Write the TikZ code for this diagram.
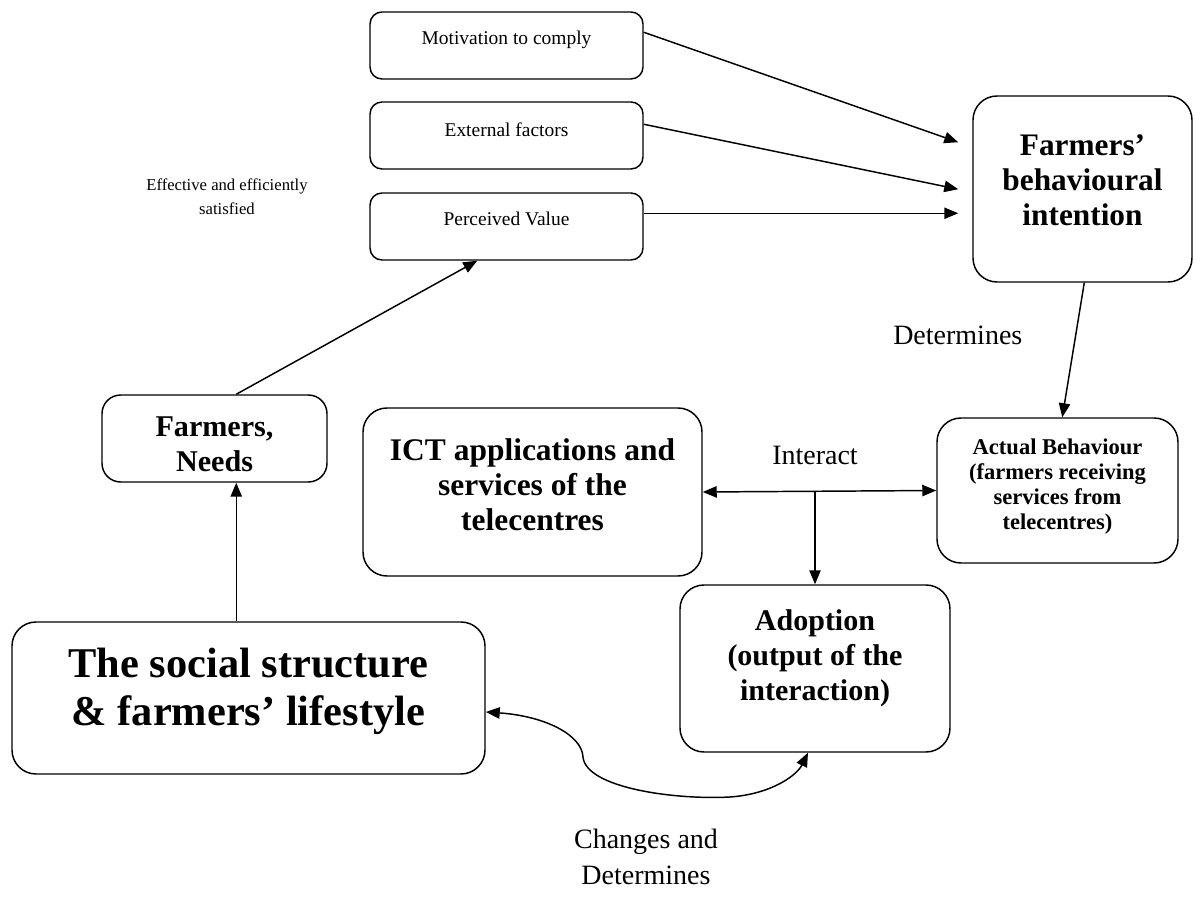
\documentclass[tikz,border=0pt]{standalone}
\usepackage{fontspec}
\setmainfont{Liberation Serif}
\usetikzlibrary{arrows.meta,calc}
\begin{document}
\begin{tikzpicture}[x=0.75pt,y=-0.75pt,
  box/.style 2 args={draw,line width=1.1pt,inner sep=0pt,
    minimum width=#1*0.75pt,minimum height=#2*0.75pt},
  smallbox/.style={rounded corners=9pt},
  bigbox/.style={rounded corners=18pt},
  txt/.style={align=center,inner sep=0pt},
  plain/.style={font=\fontsize{14.6pt}{17pt}\selectfont},
  note/.style={font=\fontsize{12.5pt}{18pt}\selectfont},
  tag/.style={font=\fontsize{21pt}{26.5pt}\selectfont},
  conn/.style={line width=1.1pt,-{Triangle[length=10.5pt,width=8.5pt]}},
  dconn/.style={line width=1.1pt,{Triangle[length=10.5pt,width=8.5pt]}-{Triangle[length=10.5pt,width=8.5pt]}}
]
\useasboundingbox (0,0) rectangle (1200,898);

% boxes
\node[box={273}{67},smallbox] (mot) at (506.5,45.5) {};
\node[box={273}{67},smallbox] (ext) at (506.5,135.5) {};
\node[box={273}{67},smallbox] (per) at (506.5,226.5) {};
\node[box={219}{186},bigbox] (int) at (1082.5,189) {};
\node[box={225}{87},smallbox,rounded corners=14pt] (needs) at (214.5,438.5) {};
\node[box={339}{168},bigbox] (ict) at (532.5,492) {};
\node[box={241}{145},bigbox] (act) at (1057.5,490.5) {};
\node[box={270}{167},bigbox] (adopt) at (815,668.5) {};
\node[box={473}{152},bigbox] (soc) at (248.5,698) {};

% box texts
\node[txt,plain] (motT) at (506.5,40) {Motivation to comply};
\node[txt,plain] (extT) at (506.5,130) {External factors};
\node[txt,plain] (perT) at (506.5,219) {Perceived Value};
\node[txt,font=\bfseries\fontsize{23.5pt}{26.25pt}\selectfont] (intT) at (1082.5,180)
  {Farmers'\\behavioural\\intention};
\node[txt,font=\bfseries\fontsize{22.6pt}{26.25pt}\selectfont] (needsT) at (214.5,444.5)
  {Farmers,\\Needs};
\node[txt,font=\bfseries\fontsize{23.6pt}{26.25pt}\selectfont] (ictT) at (532.5,485)
  {ICT applications and\\services of the\\telecentres};
\node[txt,font=\bfseries\fontsize{16.9pt}{18.75pt}\selectfont] (actT) at (1057.5,487)
  {Actual Behaviour\\(farmers receiving\\services from\\telecentres)};
\node[txt,font=\bfseries\fontsize{22.5pt}{26.25pt}\selectfont] (adoptT) at (815,658)
  {Adoption\\(output of the\\interaction)};
\node[txt,font=\bfseries\fontsize{31.8pt}{36pt}\selectfont] (socT) at (248.5,691)
  {The social structure\\\& farmers' lifestyle};

% free labels
\node[txt,note] (effL) at (227,197)
  {Effective and efficiently\\satisfied};
\node[txt,tag,anchor=west] (detL) at (893,335) {Determines};
\node[txt,tag] (interL) at (815,455) {Interact};
\node[txt,tag] (chgL) at (646,857) {Changes and\\Determines};

% arrow targets in front of the intention box
\coordinate (t1) at ($(int.north west)+(-14,47)$);
\coordinate (t2) at ($(int.north west)+(-14,94)$);
\coordinate (t3) at ($(int.north west)+(-14,118)$);

% connectors
\draw[conn] ($(mot.north east)+(0,21)$) -- (t1);
\draw[conn] ($(ext.north east)+(0,23)$) -- (t2);
\draw[conn] ($(per.north east)+(0,21)$) -- (t3);
\draw[conn] ($(needs.north west)+(135,0)$) -- ($(per.south west)+(108,0)$);
\draw[conn] ($(soc.north west)+(225,0)$) -- ($(needs.south west)+(135,0)$);
\draw[conn] ($(int.south west)+(112,0)$) -- ($(act.north west)+(126,0)$);
\draw[dconn] (ict.east) -- (act.west);
\draw[conn] (adopt.north |- ict.east) -- (adopt.north);
\draw[dconn] ($(soc.east)+(0,14)$)
  .. controls (545,716) and (582,735) .. (583,757)
  .. controls (586,788) and (675,800) .. (730,797)
  .. controls (772,794) and (797,775) .. ($(adopt.south)+(-7,0)$);
\end{tikzpicture}
\end{document}
